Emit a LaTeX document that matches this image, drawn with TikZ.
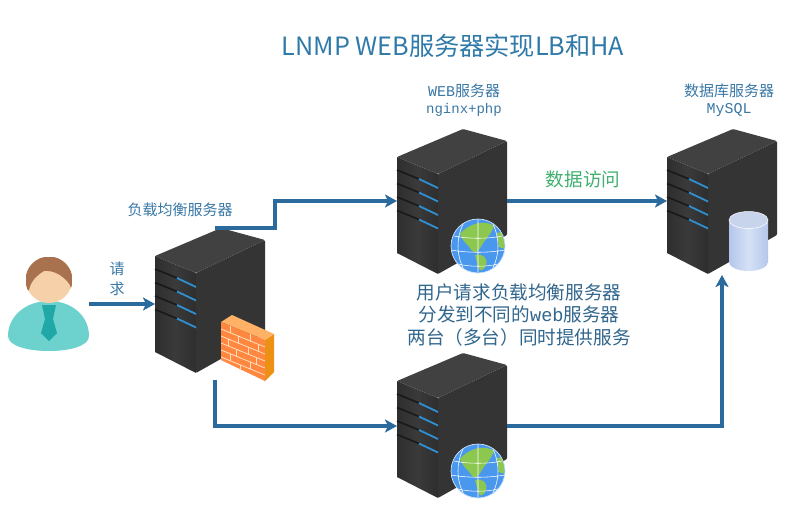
\documentclass[tikz,border=0pt]{standalone}
\usepackage{fontspec}
\setmainfont{Noto Sans CJK SC}
\newfontfamily\monolat{Liberation Mono}
\usetikzlibrary{arrows.meta,calc}
\definecolor{arrowblue}{HTML}{2A6A9C}
\definecolor{labelblue}{HTML}{3A78A6}
\definecolor{titleblue}{HTML}{2F7AA8}
\definecolor{greentxt}{HTML}{3FB06F}
\definecolor{srvfront}{HTML}{3A3A3A}
\definecolor{srvfrontb}{HTML}{2E2E2E}
\definecolor{srvside}{HTML}{343434}
\definecolor{srvtop}{HTML}{414141}
\definecolor{slotblue}{HTML}{2F8FD0}
\definecolor{globesea}{HTML}{4A98EE}
\definecolor{globeland}{HTML}{8CC850}
\definecolor{bodyteal}{HTML}{6DD2CE}
\definecolor{tieteal}{HTML}{1FA8A6}
\definecolor{skin}{HTML}{F6D0A8}
\definecolor{hair}{HTML}{A9724E}
\definecolor{cyla}{HTML}{B4C6EA}
\definecolor{cylb}{HTML}{D6E1F6}
\definecolor{cylt}{HTML}{C8D3EC}
\tikzset{
  srvbox/.style={minimum width=110pt,inner sep=0pt,outer sep=0pt},
  flow/.style={draw=arrowblue,line width=3.1pt,-{Stealth[length=12pt,width=13pt,inset=3pt]}},
  lab/.style={text=labelblue,font=\fontsize{15}{18.5}\selectfont,align=center,inner sep=0pt},
  desc/.style={text=labelblue!85!black,font=\fontsize{18.6}{22.5}\selectfont,align=center,inner sep=0pt},
}
\newcommand{\serverbody}[2]{%
 \begin{scope}[shift={(#1,#2)}]
  \fill[srvside,rounded corners=1pt] (41,17) -- (110,-16) -- (110,78) -- (41,117) -- cycle;
  \shade[left color=srvfrontb,right color=srvfrontb,middle color=srvfront] (0,0) -- (41,17) -- (41,117) -- (0,96) -- cycle;
  \fill[srvtop,rounded corners=1pt] (0,0) -- (66,-28) -- (110,-16) -- (41,17) -- cycle;
  \foreach \k in {0,1,2,3}{
    \draw[black!90,line width=1.6pt] (0,{13+13.5*\k}) -- (22,{22+13.5*\k});
    \draw[slotblue,line width=1.8pt] (22,{22+13.5*\k}) -- (41,{31+13.5*\k});
  }
 \end{scope}}
\newcommand{\globeicon}[2]{%
 \begin{scope}[shift={(#1,#2)}]
  \fill[globesea] (0,0) circle (27);
  \begin{scope}
   \clip (0,0) circle (26.5);
   \fill[globeland] (-18,-12) .. controls (-8,-24) and (8,-26) .. (16,-20) .. controls (12,-10) and (8,-8) .. (4,-1) .. controls (1,5) and (-3,8) .. (-6,5) .. controls (-8,0) and (-14,-2) .. (-18,-12) -- cycle;
   \fill[globeland] (-3,9) .. controls (5,7) and (10,12) .. (8,19) .. controls (5,26) and (1,26) .. (0,20) -- cycle;
   \fill[globeland] (19,-13) -- (27,-15) -- (27,3) -- (21,1) -- cycle;
   \draw[white,line width=.55pt] (0,-27) -- (0,27)
     (-14,-24) .. controls (-22,-8) and (-22,8) .. (-14,24)
     (14,-24) .. controls (22,-8) and (22,8) .. (14,24)
     (-24,-10) .. controls (-10,-7) and (10,-7) .. (24,-10)
     (-27,4) .. controls (-10,7) and (10,7) .. (27,4)
     (-20,18) .. controls (-8,21) and (8,21) .. (20,18);
  \end{scope}
  \draw[white!75!globesea,line width=.7pt] (0,0) circle (27);
 \end{scope}}
\begin{document}
\begin{tikzpicture}[x=1pt,y=-1pt]
\useasboundingbox (0,0) rectangle (806,517);
\fill[white] (0,0) rectangle (806,517);

% title
\node[text=titleblue,font=\fontsize{25.2}{30}\selectfont,inner sep=0pt] (title) at (453,46) {LNMP WEB服务器实现LB和HA};

% user
\node[srvbox,minimum width=82pt,minimum height=94pt] (user) at (48,304) {};
\fill[bodyteal] (8,336) .. controls (8,316) and (26,301) .. (49,301) .. controls (72,301) and (89,316) .. (89,336) .. controls (89,346) and (70,351) .. (49,351) .. controls (28,351) and (8,346) .. (8,336) -- cycle;
\fill[tieteal] (42,305) -- (56,305) -- (53,319) -- (57,333) -- (49,341) -- (41,333) -- (45,319) -- cycle;
\fill[skin] (49,280) circle (23);
\begin{scope}
 \clip (49,280) circle (23.5);
 \fill[hair] (26,292) -- (26,257) -- (72,257) -- (72,292) -- (70,285) .. controls (64,276) and (54,270) .. (44,271) .. controls (36,276) and (31,281) .. (29,290) -- cycle;
\end{scope}

% servers
\node[srvbox,minimum height=152pt] (lb) at (210,304) {};
\serverbody{155}{256}
\node[srvbox,minimum height=146pt] (web1) at (452,201) {};
\serverbody{397}{157}
\node[srvbox,minimum height=146pt] (web2) at (452,426) {};
\serverbody{397}{381}
\node[srvbox,minimum height=148pt] (db) at (722,201) {};
\serverbody{667}{157}

% firewall
\fill[orange!80!yellow!70!brown] (265,340) -- (274,334) -- (274,372) -- (265,381) -- cycle;
\fill[orange!60!white] (221,322) -- (232,315) -- (274,334) -- (265,340) -- cycle;
\fill[orange!75!red!75!white] (221,322) -- (265,340) -- (265,381) -- (221,360) -- cycle;
\begin{scope}
 \clip (221,322) -- (265,340) -- (265,381) -- (221,360) -- cycle;
 \foreach \k in {1,...,5}{
   \draw[orange!25!white,line width=.8pt] (221,{322+7*\k}) -- (265,{340+7*\k});
 }
 \foreach \k/\x/\s in {0/230/0,0/250/0,1/238/0,1/258/0,2/228/0,2/248/0,3/236/0,3/256/0,4/230/0,4/250/0,5/240/0}{
   \draw[orange!25!white,line width=.8pt] (\x,{322+7*\k+(\x-221)*.41}) -- (\x,{329+7*\k+(\x-221)*.41});
 }
\end{scope}

% globes
\globeicon{478}{246}
\globeicon{478}{471}

% database
\shade[left color=cyla,right color=cyla,middle color=cylb] (729,220) -- (729,262) arc[start angle=180,end angle=0,x radius=19.5,y radius=9] -- (768,220) -- cycle;
\fill[cylt] (748.5,220) ellipse (19.5 and 8.5);
\draw[white,line width=.5pt] (748.5,220) ellipse (19.5 and 8.5);

% labels
\node[lab] (lblb) at (180,210) {负载均衡服务器};
\node[lab] (lbreq) at (117,279) {请\\[2pt]求};
\node[lab] (lbweb) at (464,100) {{\monolat WEB}服务器\\[-1pt]{\monolat\fontsize{14}{18}\selectfont nginx+php}};
\node[lab] (lbdb) at (729,100) {数据库服务器\\[-1pt]{\monolat MySQL}};
\node[text=greentxt,font=\fontsize{18.6}{22}\selectfont,inner sep=0pt] (lbacc) at (583,179) {数据访问};
\node[desc] (lbdesc) at (519,315) {用户请求负载均衡服务器\\分发到不同的{\monolat web}服务器\\两台（多台）同时提供服务};

% connectors
\coordinate (bend) at (275,228);
\draw[flow] (user.east) -- (lb.west);
\draw[flow] ([xshift=5pt]lb.north) -- (bend) |- (web1.west);
\draw[flow] ([xshift=5pt]lb.south) |- (web2.west);
\draw[flow] (web1.east) -- (db.west);
\draw[flow] (web2.east) -| (db.south);
\end{tikzpicture}
\end{document}
